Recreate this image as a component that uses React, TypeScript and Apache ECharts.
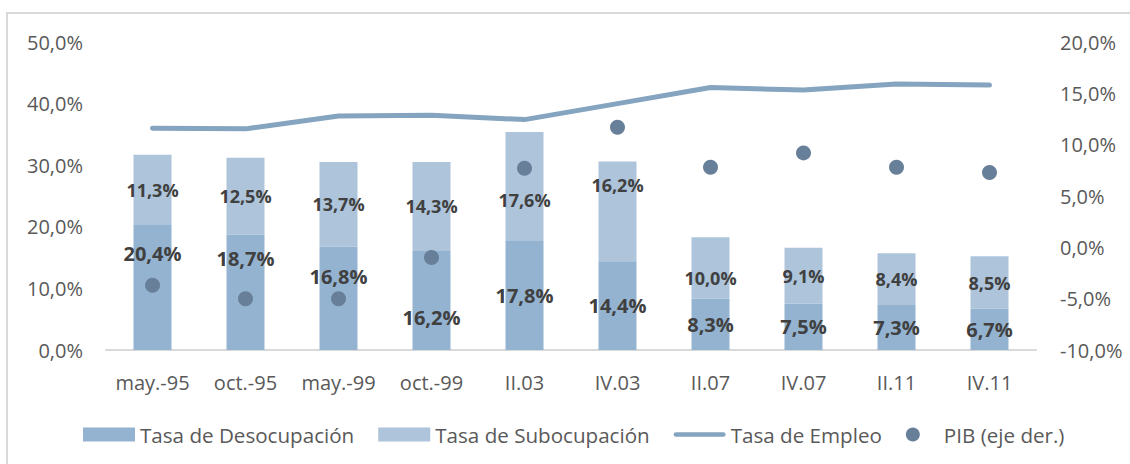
import React, { useEffect, useRef } from "react";
import * as echarts from "echarts";

const categories = ["may.-95", "oct.-95", "may.-99", "oct.-99", "II.03", "IV.03", "II.07", "IV.07", "II.11", "IV.11"];
const desocupacion = [20.4, 18.7, 16.8, 16.2, 17.8, 14.4, 8.3, 7.5, 7.3, 6.7];
const subocupacion = [11.3, 12.5, 13.7, 14.3, 17.6, 16.2, 10.0, 9.1, 8.4, 8.5];
const empleo = [36.0, 35.9, 38.0, 38.1, 37.4, 40.0, 42.6, 42.2, 43.2, 43.0];
const pib = [-3.7, -5.0, -5.0, -1.0, 7.7, 11.7, 7.8, 9.2, 7.8, 7.3];
const leftTicks = { min: 0, max: 50, interval: 10 };
const rightTicks = { min: -10, max: 20, interval: 5 };

// vertical nudges (px) of the data labels, as in the reference layout
const desocLabelShift = [-34, -34, -22, 17, 0, 0, 0, 0, 0, 0];
const subocLabelShift = [0, 0, 0, 0, 14, -26, 10, 0, 0, 0];

const FONT = "'Open Sans', 'Noto Sans', sans-serif";
const pct = (v: number) => v.toFixed(1).replace(".", ",") + "%";
const LINE_ICON = "path://M2.5,0H52.5A2.5,2.5,0,0,1,52.5,5H2.5A2.5,2.5,0,0,1,2.5,0Z";

export default function App() {
  const ref = useRef<HTMLDivElement>(null);
  useEffect(() => {
    if (!ref.current) return;
    const chart = echarts.init(ref.current, null, { renderer: "svg" });
    const labelBase = {
      show: true,
      position: "inside",
      color: "#404040",
      fontFamily: FONT,
      fontWeight: "bold",
      formatter: (p: any) => pct(p.value),
    };
    chart.setOption({
      animation: false,
      backgroundColor: "#ffffff",
      textStyle: { fontFamily: FONT },
      graphic: [
        {
          type: "polyline",
          shape: { points: [[7, 470], [7, 13], [1140, 13]] },
          style: { stroke: "#D9D9D9", lineWidth: 2, fill: "none" },
          silent: true,
        },
      ],
      grid: { left: 106, right: 94, top: 42, bottom: 114, containLabel: false },
      legend: {
        left: 83,
        top: 424,
        padding: 0,
        itemWidth: 52,
        itemHeight: 14,
        itemGap: 24,
        symbolKeepAspect: true,
        textStyle: { fontFamily: FONT, fontSize: 20.6, color: "#595959" },
        data: [
          { name: "Tasa de Desocupación", icon: "rect" },
          { name: "Tasa de Subocupación", icon: "rect" },
          { name: "Tasa de Empleo", icon: LINE_ICON },
          { name: "PIB (eje der.)", icon: "circle" },
        ],
      },
      xAxis: {
        type: "category",
        data: categories,
        axisLine: { show: true, lineStyle: { color: "#D9D9D9", width: 2 } },
        axisTick: { show: false },
        axisLabel: { color: "#595959", fontSize: 20, fontFamily: FONT, margin: 22, interval: 0 },
      },
      yAxis: [
        {
          type: "value",
          ...leftTicks,
          axisLine: { show: false },
          axisTick: { show: false },
          splitLine: { show: false },
          axisLabel: { color: "#595959", fontSize: 20, fontFamily: FONT, margin: 23, formatter: pct },
        },
        {
          type: "value",
          ...rightTicks,
          position: "right",
          axisLine: { show: false },
          axisTick: { show: false },
          splitLine: { show: false },
          axisLabel: { color: "#595959", fontSize: 20, fontFamily: FONT, margin: 24, formatter: pct },
        },
      ],
      series: [
        {
          name: "Tasa de Desocupación",
          type: "bar",
          stack: "tasas",
          barWidth: 38,
          itemStyle: { color: "#93B3D0" },
          data: desocupacion.map((v, i) => ({
            value: v,
            label: { ...labelBase, fontSize: 20, offset: [0, desocLabelShift[i]] },
          })),
          z: 2,
        },
        {
          name: "Tasa de Subocupación",
          type: "bar",
          stack: "tasas",
          barWidth: 38,
          itemStyle: { color: "#ADC4DB" },
          data: subocupacion.map((v, i) => ({
            value: v,
            label: { ...labelBase, fontSize: 18, offset: [0, subocLabelShift[i]] },
          })),
          z: 2,
        },
        {
          name: "Tasa de Empleo",
          type: "line",
          data: empleo,
          symbol: "none",
          lineStyle: { color: "#84A4BF", width: 5, cap: "round", join: "round" },
          itemStyle: { color: "#84A4BF" },
          z: 3,
        },
        {
          name: "PIB (eje der.)",
          type: "scatter",
          yAxisIndex: 1,
          data: pib,
          symbolSize: 15,
          itemStyle: { color: "#687F99", opacity: 1 },
          z: 4,
        },
      ],
    });
    return () => chart.dispose();
  }, []);
  return (
    <div
      ref={ref}
      style={{ position: "absolute", left: 0, top: 0, width: 1130, height: 464 }}
    />
  );
}
